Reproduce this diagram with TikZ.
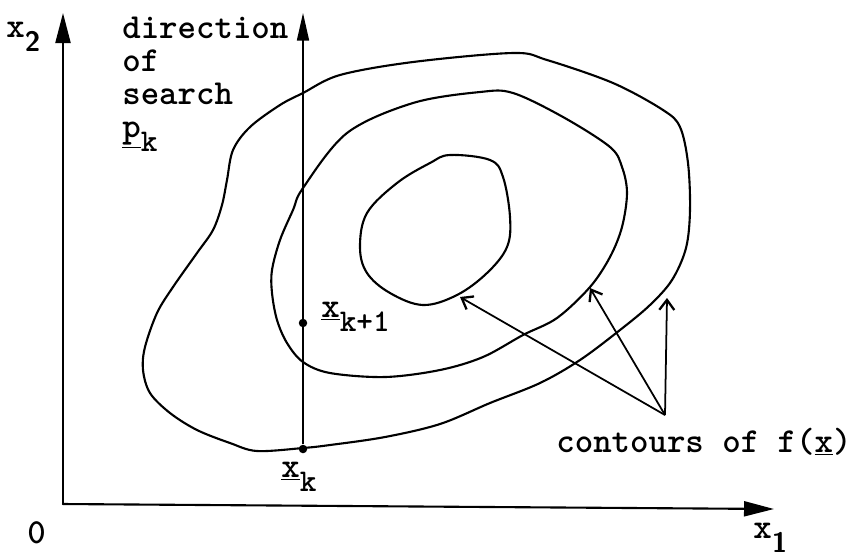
\documentclass[tikz,border=0pt]{standalone}
\usepackage{tikz}
\usetikzlibrary{arrows.meta}
\newcommand{\lowsub}[1]{\raisebox{-0.28cm}{\fontsize{18}{18}\selectfont #1}}
\newcommand{\axsub}[1]{\raisebox{-0.28cm}{\sffamily\fontsize{16}{16}\selectfont #1}}

\begin{document}
\begin{tikzpicture}[x=0.02cm, y=-0.02cm,
    ink/.style={line width=1.2pt, line join=round, line cap=round},
    axis/.style={ink, -{Triangle[length=0.6cm, width=0.3cm]}},
    searchline/.style={line width=0.9pt, -{Triangle[length=0.55cm, width=0.24cm]}},
    contour/.style={ink},
    pointer/.style={line width=1pt, -{Straight Barb[length=0.2cm, width=0.3cm, line width=1.3pt]}},
    dot/.style={circle, fill=black, inner sep=0pt, minimum size=0.17cm},
    lbl/.style={inner sep=0pt, font=\ttfamily\bfseries\fontsize{20}{18.7}\selectfont}
  ]
  \useasboundingbox (0,0) rectangle (868,556);

  \coordinate (O) at (63,504);
  \coordinate (ytip) at (63,13);
  \coordinate (xtip) at (774,509);
  \coordinate (ptip) at (303,13);
  \node[dot] (xk) at (303,449) {};
  \node[dot] (xk1) at (303,323) {};
  \coordinate (src) at (665,415);
  \coordinate (inner) at (460,297);
  \coordinate (middle) at (590,288);
  \coordinate (outer) at (667,298);

  \node[lbl, anchor=base west] (zero) at (27,543) {0};
  \node[lbl, anchor=base west] (xtwo) at (6,37) {x\axsub{2}};
  \node[lbl, anchor=base west] (xone) at (753,538) {x\axsub{1}};
  \node[lbl, anchor=base west, align=left] (dir) at (122,137)
    {direction\\of\\search\\\underline{p}\lowsub{k}};
  \node[lbl, anchor=base west] (xk1lbl) at (321,317) {\underline{x}\lowsub{k+1}};
  \node[lbl, anchor=base west] (xklbl) at (281,477) {\underline{x}\lowsub{k}};
  \node[lbl, anchor=base west] (contlbl) at (556,452) {contours of f(\underline{x})};

  \draw[contour] plot[smooth cycle, tension=0.55] coordinates {
    (303,448) (257,451) (230,443) (197,430) (170,413) (150,393) (143,370)
    (145,347) (157,313) (173,287) (197,253) (213,230) (222,205) (227,180)
    (233,150) (250,127) (280,105) (303,93) (340,75) (413,62) (513,53)
    (547,60) (613,83) (663,110) (680,127) (688,163) (690,210) (686,248)
    (672,280) (650,305) (620,330) (580,360) (540,383) (490,403) (440,424)
    (385,437) (330,445)};
  \draw[contour] plot[smooth cycle, tension=0.55] coordinates {
    (293,210) (303,188) (347,133) (413,103) (480,92) (513,93) (563,117)
    (610,147) (622,167) (627,193) (622,227) (610,257) (590,287) (557,318)
    (523,335) (483,357) (440,370) (385,377) (330,373) (303,362) (287,343)
    (277,320) (272,293) (272,270) (280,240)};
  \draw[contour] plot[smooth cycle, tension=0.6] coordinates {
    (450,155) (490,160) (503,177) (510,217) (507,247) (487,273) (457,295)
    (423,305) (390,293) (367,273) (360,247) (367,213) (397,183) (430,163)};

  \draw[axis] (O) -- (ytip);
  \draw[axis] (O) -- (xtip);
  \draw[searchline] (xk) -- (ptip);
  \draw[pointer] (src) -- (inner);
  \draw[pointer] (src) -- (middle);
  \draw[pointer] (src) -- (outer);
\end{tikzpicture}
\end{document}
